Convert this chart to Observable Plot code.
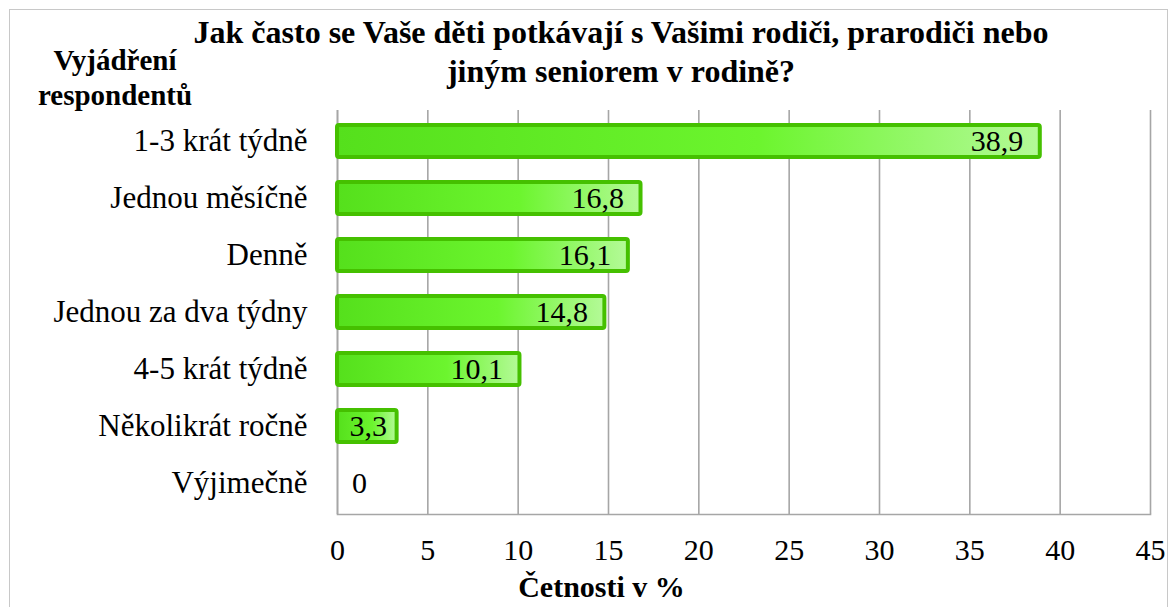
<!DOCTYPE html>
<html>
<head>
<meta charset="utf-8">
<script src="https://cdn.jsdelivr.net/npm/d3@7"></script>
<script src="https://cdn.jsdelivr.net/npm/@observablehq/plot@0.6"></script>
<style>
  body { margin: 0; background: #fff; }
  #wrap { position: relative; width: 1170px; height: 607px; overflow: hidden; font-family: 'Liberation Serif', 'Times New Roman', serif; }
  #border { position: absolute; left: 9px; top: 9px; width: 1159px; height: 620px; border: 1.5px solid #c8c8c8; box-sizing: border-box; }
  .t { position: absolute; font-weight: bold; color: #000; text-align: center; white-space: nowrap; font-family: 'Liberation Serif', 'Times New Roman', serif; }
  #chart { position: absolute; left: 0; top: 0; }
</style>
</head>
<body>
<div id="wrap">
  <div id="border"></div>
  <div id="chart"></div>
  <div class="t" id="title" style="left:0; width:1242px; top:13px; font-size:32px; line-height:39px;">Jak často se Vaše děti potkávají s Vašimi rodiči, prarodiči nebo<br>jiným seniorem v rodině?</div>
  <div class="t" id="ytitle" style="left:0; width:230px; top:43px; font-size:29px; line-height:35px;">Vyjádření<br>respondentů</div>
  <div class="t" id="xtitle" style="left:0; width:1203px; top:570px; font-size:30px; line-height:34px;">Četnosti v %</div>
</div>
<script>
const categories = ["1-3 krát týdně", "Jednou měsíčně", "Denně", "Jednou za dva týdny", "4-5 krát týdně", "Několikrát ročně", "Výjimečně"];
const values = [38.9, 16.8, 16.1, 14.8, 10.1, 3.3, 0];
const xTicks = [0, 5, 10, 15, 20, 25, 30, 35, 40, 45];

const data = categories.map((c, i) => ({cat: c, val: values[i], label: String(values[i]).replace(".", ",")}));
const font = "'Liberation Serif', 'Times New Roman', serif";

const plot = Plot.plot({
  width: 1170,
  height: 607,
  marginLeft: 337,
  marginRight: 20,
  marginTop: 110,
  marginBottom: 93,
  style: {fontFamily: font, background: "transparent", color: "#000"},
  x: {domain: [0, 45], ticks: xTicks},
  y: {domain: categories, paddingInner: 0.43, paddingOuter: 0.215},
  marks: [
    Plot.gridX(xTicks, {stroke: "#a6a6a6", strokeOpacity: 1, strokeWidth: 1.6}),
    Plot.frame({anchor: "bottom", stroke: "#a6a6a6", strokeWidth: 1.6}),
    Plot.ruleX([0], {stroke: "#a6a6a6", strokeWidth: 1.6}),
    Plot.barX(data.filter(d => d.val > 0), {x: "val", y: "cat", fill: "url(#barGrad)", stroke: "#45c000", strokeWidth: 4, rx: 2}),
    Plot.text(data.filter(d => d.val >= 5), {x: "val", y: "cat", text: "label", textAnchor: "end", dx: -17, fontSize: 30, fill: "#000"}),
    Plot.text(data.filter(d => d.val > 0 && d.val < 5), {x: "val", y: "cat", text: "label", textAnchor: "end", dx: -10, fontSize: 30, fill: "#000"}),
    Plot.text(data.filter(d => d.val === 0), {x: "val", y: "cat", text: "label", textAnchor: "middle", dx: 22, fontSize: 30, fill: "#000"}),
    Plot.axisY({tickSize: 0, tickPadding: 30, fontSize: 31, label: null}),
    Plot.axisX(xTicks, {tickSize: 0, tickPadding: 24, fontSize: 30, label: null, tickFormat: d => String(d)})
  ]
});

const svg = d3.select(plot);
const defs = svg.insert("defs", ":first-child");
const g = defs.append("linearGradient").attr("id", "barGrad").attr("x1", "0").attr("y1", "0").attr("x2", "1").attr("y2", "0");
g.append("stop").attr("offset", "0%").attr("stop-color", "#55e01c");
g.append("stop").attr("offset", "60%").attr("stop-color", "#6cf52e");
g.append("stop").attr("offset", "100%").attr("stop-color", "#b4fa98");

document.getElementById("chart").appendChild(plot);
</script>
</body>
</html>
